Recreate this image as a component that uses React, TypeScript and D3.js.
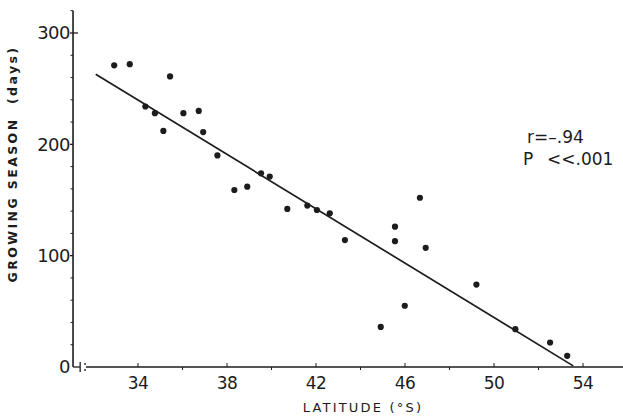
import React from "react";
import * as d3 from "d3";

const latitude = [32.93, 33.63, 35.44, 34.33, 34.76, 35.14, 36.04, 36.73, 36.93, 37.57, 38.33, 38.91, 39.53, 39.92, 40.71, 41.61, 42.04, 42.62, 43.3, 44.91, 45.55, 45.55, 46.67, 45.99, 46.93, 49.21, 50.96, 52.52, 53.29];
const seasonDays = [271, 272, 261, 234, 228, 212, 228, 230, 211, 190, 159, 162, 174, 171, 142, 145, 141, 138, 114, 36, 126, 113, 152, 55, 107, 74, 34, 22, 10];
const fitLat = [32.1, 53.56];
const fitDays = [263, 1];
const xTicks = [34, 38, 42, 46, 50, 54];
const xMinor = [36, 40, 44, 48, 52];
const yTicks = [0, 100, 200, 300];
const yMinor = [20, 40, 60, 80, 120, 140, 160, 180, 220, 240, 260, 280, 320];
const stats = ["r=\u2013.94", "P", "<<.001"];

const W = 623, H = 419;
const ink = "#1c1c1c";
const font = "'DejaVu Sans', sans-serif";

export default function App() {
  const x = d3.scaleLinear().domain([34, 54]).range([138, 583]);
  const y = d3.scaleLinear().domain([0, 300]).range([367, 33]);
  const axisX = x(31.08);
  const y0 = y(0);
  const line = d3.line<number>().x((d, i) => x(fitLat[i])).y((d) => y(d));

  return (
    <svg width={W} height={H} style={{ position: "absolute", left: 0, top: 0, background: "#fff" }}>
      {/* y axis */}
      <line x1={axisX} x2={axisX} y1={y(320)} y2={y0} stroke={ink} strokeWidth={1.6} />
      {yTicks.map((t) => (
        <g key={"yt" + t}>
          <line x1={t === 0 ? axisX : axisX - 3} x2={t === 300 ? axisX + 5 : t === 0 ? axisX + 7 : axisX} y1={y(t)} y2={y(t)} stroke={ink} strokeWidth={1.3} />
          <text x={axisX - 3} y={y(t)} dy="0.36em" textAnchor="end" fontSize={18} fontFamily={font} fill={ink} letterSpacing={-0.5}>
            {t}
          </text>
        </g>
      ))}
      {yMinor.map((t) => (
        <line key={"ym" + t} x1={axisX - 2.5} x2={axisX} y1={y(t)} y2={y(t)} stroke={ink} strokeWidth={1} />
      ))}
      {/* axis break mark */}
      <line x1={x(31.4)} x2={x(31.4)} y1={y0 - 5} y2={y0 + 5} stroke={ink} strokeWidth={1.3} />
      <circle cx={x(31.62)} cy={y0 - 3} r={0.9} fill={ink} />
      <circle cx={x(31.62)} cy={y0 + 3} r={0.9} fill={ink} />
      {/* x axis */}
      <line x1={x(31.66)} x2={W} y1={y0} y2={y0} stroke={ink} strokeWidth={1.6} />
      {xTicks.map((t) => (
        <g key={"xt" + t}>
          <line x1={x(t)} x2={x(t)} y1={y0 - 4} y2={y0} stroke={ink} strokeWidth={1} />
          <text x={x(t)} y={y0 + 22} textAnchor="middle" fontSize={17} fontFamily={font} fill={ink} letterSpacing={-0.5}>
            {t}
          </text>
        </g>
      ))}
      {xMinor.map((t) => (
        <line key={"xm" + t} x1={x(t)} x2={x(t)} y1={y0} y2={y0 + 3} stroke={ink} strokeWidth={1} />
      ))}
      {/* axis titles */}
      <text x={363} y={412} textAnchor="middle" fontSize={13} fontFamily={font} fill={ink} letterSpacing={2.2}>
        LATITUDE (°S)
      </text>
      <text transform="translate(17,164) rotate(-90)" textAnchor="middle" fontSize={12.5} fontWeight="bold" fontFamily={font} fill={ink} letterSpacing={2.4} xmlSpace="preserve" style={{ whiteSpace: "pre" }}>
        {"GROWING SEASON  (days)"}
      </text>
      {/* regression line */}
      <path d={line(fitDays) || ""} fill="none" stroke={ink} strokeWidth={1.7} />
      {/* points */}
      {latitude.map((la, i) => (
        <circle key={"p" + i} cx={x(la)} cy={y(seasonDays[i])} r={3.1} fill={ink} />
      ))}
      {/* stats */}
      <text x={527} y={143} fontSize={17} fontFamily={font} fill={ink}>{stats[0]}</text>
      <text x={523} y={165} fontSize={17} fontFamily={font} fill={ink}>{stats[1]}</text>
      <text x={547} y={165} fontSize={17} fontFamily={font} fill={ink}>{stats[2]}</text>
    </svg>
  );
}
